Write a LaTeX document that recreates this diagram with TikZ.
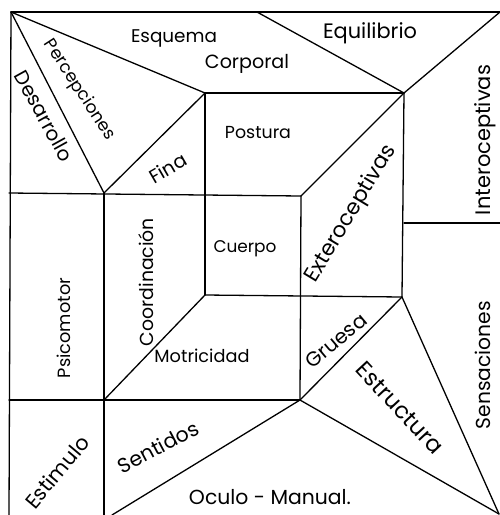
\documentclass[tikz,border=0pt]{standalone}
\usepackage{fontspec}
\usepackage{graphicx}
\setmainfont{Poppins}
\newcommand\fitw[2]{\resizebox{#1pt}{!}{#2}}
\begin{document}
\begin{tikzpicture}[x=1pt,y=-1pt,
  edge/.style={line width=1.3pt,black,line cap=round,line join=round},
  lbl/.style={inner sep=0pt,font=\fontsize{20}{22}\selectfont}]
\useasboundingbox (0,0) rectangle (500,515);
% key points
\coordinate (TL) at (11,12);
\coordinate (TR) at (500,12);
\coordinate (E1) at (257,12);
\coordinate (A) at (205,93);
\coordinate (B) at (404,93);
\coordinate (L1) at (9,193);
\coordinate (C) at (104,193);
\coordinate (D) at (301,196);
\coordinate (F) at (205,295);
\coordinate (H) at (402,297);
\coordinate (L2) at (9,400);
\coordinate (K) at (104,400);
\coordinate (G) at (300,400);
\coordinate (BR) at (499,514);
\coordinate (BL) at (9,515);
\coordinate (KB) at (104,515);
\coordinate (OB) at (112,515);
\coordinate (R1) at (404,223);
\coordinate (R2) at (500,223);
% frame
\draw[edge] (TL) -- (TR);
\draw[edge] (TL) -- (BL);
% lines
\draw[edge] (TL) -- (A);
\draw[edge] (TL) -- (C);
\draw[edge] (E1) -- (B);
\draw[edge] (B) -- (TR);
\draw[edge] (A) -- (B);
\draw[edge] (C) -- (A);
\draw[edge] (D) -- (B);
\draw[edge] (L1) -- (D);
\draw[edge] (A) -- (F);
\draw[edge] (B) -- (H);
\draw[edge] (F) -- (H);
\draw[edge] (C) -- (KB);
\draw[edge] (D) -- (G);
\draw[edge] (L2) -- (G);
\draw[edge] (K) -- (F);
\draw[edge] (G) -- (H);
\draw[edge] (H) -- (BR);
\draw[edge] (G) -- (BR);
\draw[edge] (G) -- (OB);
\draw[edge] (R1) -- (R2);
% labels
\node[lbl] (esq) at (174,38) {\fitw{86}{Esquema}};
\node[lbl] (corp) at (247,64) {\fitw{84}{Corporal}};
\node[lbl] (equi) at (370,33) {\fitw{94}{Equilibrio}};
\node[lbl,rotate=-57] (perc) at (79,90) {\fitw{116}{Percepciones}};
\node[lbl,rotate=-61] (desa) at (44,116) {\fitw{100}{Desarrollo}};
\node[lbl,rotate=30] (fina) at (168,168) {\fitw{40}{Fina}};
\node[lbl] (post) at (258,133) {\fitw{66}{Postura}};
\node[lbl,rotate=90] (coor) at (146,282) {\fitw{128}{Coordinación}};
\node[lbl] (cuer) at (245,249) {\fitw{63}{Cuerpo}};
\node[lbl,rotate=59] (exte) at (351,214) {\fitw{156}{Exteroceptivas}};
\node[lbl,rotate=90] (inte) at (485,140) {\fitw{150}{Interoceptivas}};
\node[lbl,rotate=90] (psic) at (64,328) {\fitw{100}{Psicomotor}};
\node[lbl] (motr) at (202,356) {\fitw{95}{Motricidad}};
\node[lbl,rotate=40] (grue) at (336,341) {\fitw{73}{Gruesa}};
\node[lbl,rotate=-47] (estr) at (400,408) {\fitw{116}{Estructura}};
\node[lbl,rotate=90] (sens) at (483,365) {\fitw{128}{Sensaciones}};
\node[lbl,rotate=50] (esti) at (57,472) {\fitw{87}{Estimulo}};
\node[lbl,rotate=28] (sent) at (158,447) {\fitw{88}{Sentidos}};
\node[lbl] (ocul) at (270,497) {\fitw{162}{Oculo - Manual.}};
\end{tikzpicture}
\end{document}
